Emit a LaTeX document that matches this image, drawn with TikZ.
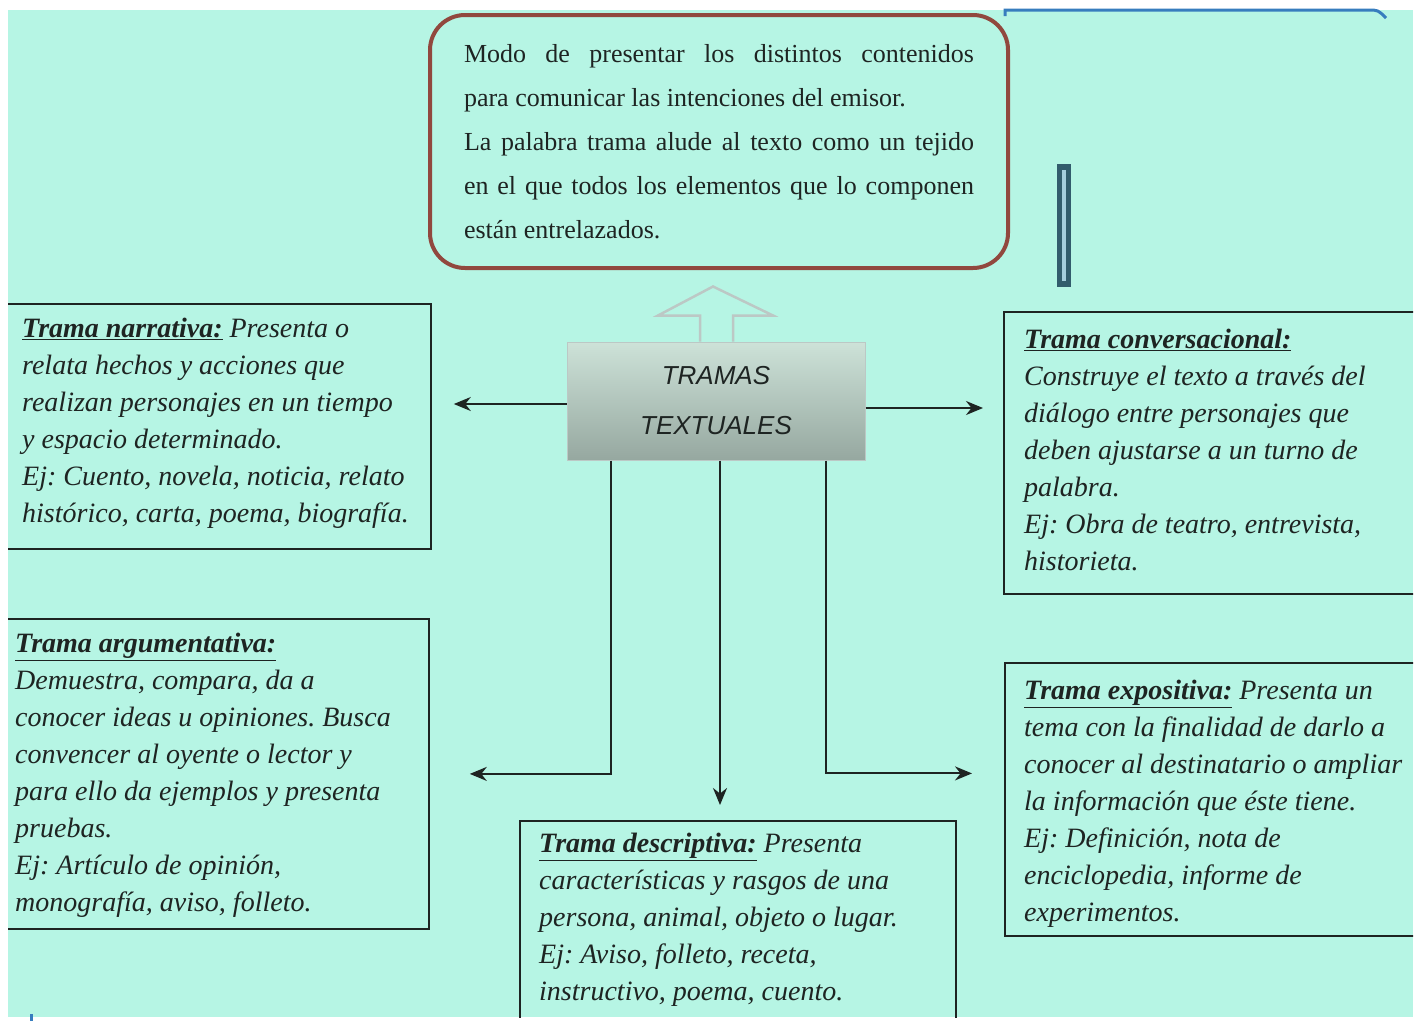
\documentclass[tikz,border=0pt]{standalone}
\usepackage{fontspec}
\setmainfont{Liberation Serif}
\newfontfamily\TitleFont{Liberation Sans}
\usepackage{xcolor}
\usepackage{tikz}
\usetikzlibrary{
	arrows.meta,
	calc,
	positioning
}
\definecolor{mint}{RGB}{182,245,228}
\definecolor{ink}{RGB}{30,36,34}
\definecolor{defbrown}{RGB}{145,72,62}
\definecolor{slate}{RGB}{50,92,108}
\definecolor{slatelight}{RGB}{165,205,220}
\definecolor{edgeblue}{RGB}{55,125,190}
\definecolor{shadetop}{RGB}{205,226,216}
\definecolor{shadebottom}{RGB}{150,168,160}
\definecolor{arrowgray}{RGB}{188,200,197}
\tikzstyle{every picture}+=[>={Stealth[length=17pt, width=14pt]}]
\tikzset{
	tramabox/.style={draw=ink, line width=1.8pt, anchor=north west, inner sep=0pt},
	tramatext/.style={anchor=north west, inner sep=0pt, align=left, text=ink,
		font=\fontsize{28}{37}\selectfont\itshape\frenchspacing},
	defbox/.style={draw=defbrown, line width=4pt, rounded corners=35pt,
		minimum width=578pt, minimum height=253pt, text width=510pt,
		align=justify, text=ink, font=\fontsize{26}{44}\selectfont\sloppy},
	titlebox/.style={draw=arrowgray, line width=1pt, top color=shadetop,
		bottom color=shadebottom, minimum width=298pt, minimum height=118pt,
		align=center, text=ink, font=\TitleFont\itshape\fontsize{26}{50}\selectfont},
	blockarrow/.style={draw=arrowgray, line width=2.5pt, fill=mint}
}
\newcommand{\TramaHead}[1]{\underline{\textbf{#1}}}

\begin{document}
\begin{tikzpicture}
	[x=1pt, y=-1pt]

	\useasboundingbox (0,0) rectangle (1421,1021);

	% sheet
	\fill[white] (0,0) rectangle (1421,1021);
	\fill[mint] (8,10) rectangle (1413,1017);
	\draw[edgeblue, line width=3pt] (1005,16) -- (1005,10) -- (1368,10) .. controls (1378,10) .. (1386,18);
	\draw[edgeblue, line width=3pt] (31,1014) -- (31,1021);

	\begin{scope}
		\clip (8,10) rectangle (1413,1017);

		% definition
		\node[defbox] (def) at (719,141.5) {Modo de presentar los distintos contenidos\linebreak
			para comunicar las intenciones del emisor.\par
			La palabra trama alude al texto como un tejido\linebreak
			en el que todos los elementos que lo componen\linebreak
			están entrelazados.};

		% small bar
		\fill[slate] (1057,164) rectangle (1071,287);
		\fill[slatelight] (1062,170) rectangle (1066,281);

		% centre
		\node[titlebox] (tramas) at (716,401) {TRAMAS\\TEXTUALES};
		\draw[blockarrow] ([xshift=-16pt]tramas.north) -- ++(0,-26) -- ++(-42,0)
			-- ++(55,-29) -- ++(60,29) -- ++(-40,0) -- ++(0,26);

		% boxes
		\node[tramabox, minimum width=427pt, minimum height=245pt] (narr) at (3,303) {};
		\node[tramabox, minimum width=422pt, minimum height=282pt] (conv) at (1003,311) {};
		\node[tramabox, minimum width=425pt, minimum height=310pt] (arg) at (3,618) {};
		\node[tramabox, minimum width=436pt, minimum height=220pt] (desc) at (519,820) {};
		\node[tramabox, minimum width=421pt, minimum height=273pt] (expo) at (1004,662) {};

		% texts
		\node[tramatext] (narrtext) at ([shift={(19,15)}]narr.north west) {%
			\TramaHead{Trama narrativa:} Presenta o\\
			relata hechos y acciones que\\
			realizan personajes en un tiempo\\
			y espacio determinado.\\
			Ej: Cuento, novela, noticia, relato\\
			histórico, carta, poema, biografía.};
		\node[tramatext] (convtext) at ([shift={(21,18)}]conv.north west) {%
			\TramaHead{Trama conversacional:}\\
			Construye el texto a través del\\
			diálogo entre personajes que\\
			deben ajustarse a un turno de\\
			palabra.\\
			Ej: Obra de teatro, entrevista,\\
			historieta.};
		\node[tramatext] (argtext) at ([shift={(12,15)}]arg.north west) {%
			\TramaHead{Trama argumentativa:}\\
			Demuestra, compara, da a\\
			conocer ideas u opiniones. Busca\\
			convencer al oyente o lector y\\
			para ello da ejemplos y presenta\\
			pruebas.\\
			Ej: Artículo de opinión,\\
			monografía, aviso, folleto.};
		\node[tramatext] (desctext) at ([shift={(20,13)}]desc.north west) {%
			\TramaHead{Trama descriptiva:} Presenta\\
			características y rasgos de una\\
			persona, animal, objeto o lugar.\\
			Ej: Aviso, folleto, receta,\\
			instructivo, poema, cuento.};
		\node[tramatext] (expotext) at ([shift={(20,18)}]expo.north west) {%
			\TramaHead{Trama expositiva:} Presenta un\\
			tema con la finalidad de darlo a\\
			conocer al destinatario o ampliar\\
			la información que éste tiene.\\
			Ej: Definición, nota de\\
			enciclopedia, informe de\\
			experimentos.};

		% connectors
		\coordinate (tl) at ([yshift=-3pt]tramas.west);
		\coordinate (tr) at ([yshift=-7pt]tramas.east);
		\coordinate (bl) at ([xshift=-105pt]tramas.south);
		\coordinate (bm) at ([xshift=4pt]tramas.south);
		\coordinate (br) at ([xshift=110pt]tramas.south);
		\begin{scope}[->, line width=2pt, draw=ink]
			\draw[shorten >=22pt] (tl) -- (tl -| narr.east);
			\draw[shorten >=20pt] (tr) -- (tr -| conv.west);
			\draw[shorten >=40pt] (bl) |- (arg.east);
			\draw[shorten >=15pt] (bm) -- (bm |- desc.north);
			\draw[shorten >=32pt] (br) |- ([yshift=26pt]expo.west);
		\end{scope}
	\end{scope}

\end{tikzpicture}
\end{document}
